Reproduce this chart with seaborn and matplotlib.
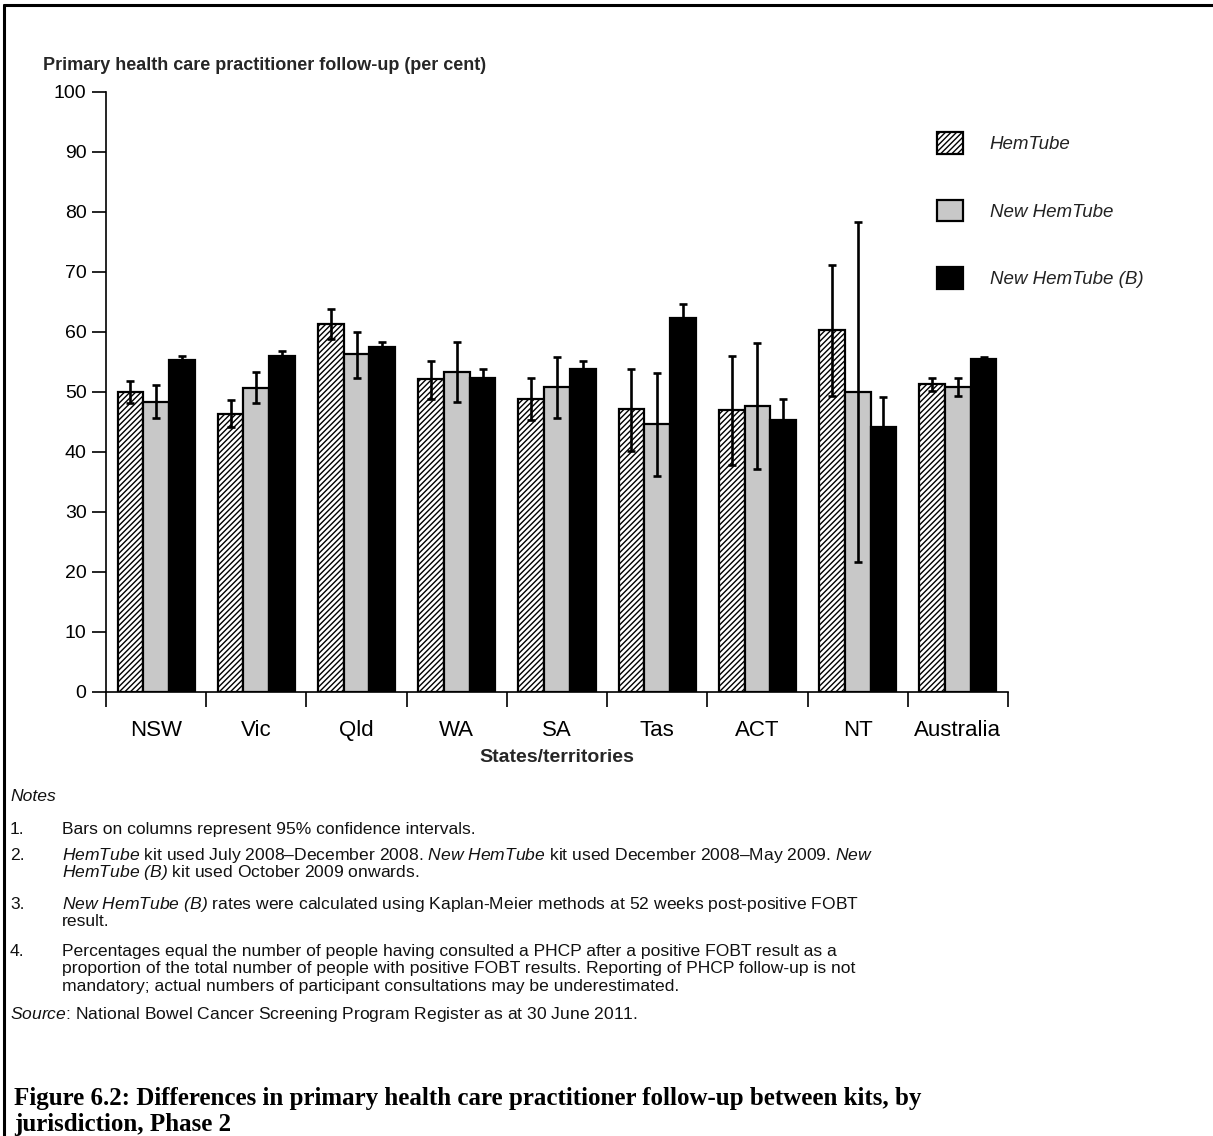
import matplotlib
matplotlib.use("Agg")
import matplotlib.pyplot as plt
import seaborn as sns
import pandas as pd
import numpy as np
from matplotlib.lines import Line2D

# ---------------- data ----------------
states = ["NSW", "Vic", "Qld", "WA", "SA", "Tas", "ACT", "NT", "Australia"]
kits = ["HemTube", "New HemTube", "New HemTube (B)"]

hemtube = [50.0, 46.4, 61.4, 52.1, 48.9, 47.1, 47.0, 60.3, 51.3]
hemtube_lo = [48.1, 44.2, 58.9, 48.9, 45.3, 40.2, 37.9, 49.4, 50.2]
hemtube_hi = [51.9, 48.6, 63.9, 55.2, 52.3, 53.9, 56.0, 71.1, 52.3]

new_hemtube = [48.4, 50.7, 56.3, 53.4, 50.8, 44.6, 47.7, 50.0, 50.9]
new_hemtube_lo = [45.7, 48.1, 52.4, 48.3, 45.7, 36.0, 37.1, 21.7, 49.3]
new_hemtube_hi = [51.2, 53.3, 60.0, 58.3, 55.8, 53.1, 58.2, 78.3, 52.4]

new_hemtube_b = [55.3, 56.0, 57.5, 52.4, 53.8, 62.3, 45.4, 44.1, 55.5]
new_hemtube_b_lo = [54.6, 55.1, 56.6, 51.0, 52.4, 60.0, 41.9, 39.0, 55.1]
new_hemtube_b_hi = [56.0, 56.9, 58.4, 53.8, 55.2, 64.6, 48.9, 49.2, 55.9]

values = [hemtube, new_hemtube, new_hemtube_b]
lows = [hemtube_lo, new_hemtube_lo, new_hemtube_b_lo]
highs = [hemtube_hi, new_hemtube_hi, new_hemtube_b_hi]

y_ticks = [0, 10, 20, 30, 40, 50, 60, 70, 80, 90, 100]

df = pd.DataFrame({
    "state": np.tile(states, len(kits)),
    "kit": np.repeat(kits, len(states)),
    "value": np.concatenate(values),
})

# ---------------- style ----------------
sns.set_theme(style="white")
plt.rcParams["font.family"] = ["Liberation Sans", "DejaVu Sans"]
plt.rcParams["hatch.linewidth"] = 1.0
plt.rcParams["hatch.color"] = "black"
plt.rcParams["mathtext.fontset"] = "custom"
plt.rcParams["mathtext.it"] = "Liberation Sans:italic"
plt.rcParams["mathtext.rm"] = "Liberation Sans:italic"
plt.rcParams["mathtext.default"] = "it"

W, H = 1213, 1136
fig = plt.figure(figsize=(W / 100, H / 100), dpi=100)
fig.patch.set_facecolor("white")

def fx(px):
    return px / W

def fy(py):
    return 1 - py / H

ax_left, ax_right, ax_top, ax_bottom = 106, 1008, 92, 692
ax = fig.add_axes([fx(ax_left), fy(ax_bottom), fx(ax_right - ax_left),
                   (ax_bottom - ax_top) / H])

palette = {"HemTube": "white", "New HemTube": "#c8c8c8", "New HemTube (B)": "black"}
sns.barplot(data=df, x="state", y="value", hue="kit", order=states,
            hue_order=kits, palette=palette, errorbar=None, width=0.77,
            gap=0, edgecolor="black", linewidth=1.6, legend=False,
            saturation=1, ax=ax)

hatches = ["//////", None, None]
for cont, h, val, lo, hi in zip(ax.containers, hatches, values, lows, highs):
    xs = []
    for p in cont.patches:
        if h:
            p.set_hatch(h)
        xs.append(p.get_x() + p.get_width() / 2)
    xs = np.array(xs)
    val = np.array(val)
    yerr = np.vstack([val - np.array(lo), np.array(hi) - val])
    ax.errorbar(xs, val, yerr=yerr, fmt="none", ecolor="black",
                elinewidth=1.9, capsize=3.2, capthick=1.9, zorder=5)

ax.set_ylim(0, 100)
ax.set_xlim(-0.5, len(states) - 0.5)
ax.set_yticks(y_ticks)
ax.set_yticklabels([str(t) for t in y_ticks], fontsize=14)
ax.tick_params(axis="y", direction="out", length=10, width=1.2,
               color="black", pad=4, left=True)
ax.tick_params(axis="x", which="major", length=0, pad=20, labelsize=16)
ax.set_xticks(np.arange(len(states) + 1) - 0.5, minor=True)
ax.tick_params(axis="x", which="minor", direction="out", length=11,
               width=1.2, color="black", bottom=True)
ax.set_xlabel("")
ax.set_ylabel("")
for s in ["top", "right"]:
    ax.spines[s].set_visible(False)
for s in ["left", "bottom"]:
    ax.spines[s].set_color("black")
    ax.spines[s].set_linewidth(1.2)
for lab in ax.get_xticklabels() + ax.get_yticklabels():
    lab.set_color("black")

# legend
leg = fig.legend(ax.containers, kits, loc="upper left",
                 bbox_to_anchor=(fx(937), fy(132)), frameon=False,
                 prop={"style": "italic", "size": 13.5},
                 handlelength=1.4, handleheight=1.4, labelspacing=2.45,
                 handletextpad=1.4, borderpad=0, borderaxespad=0)
for t in leg.get_texts():
    t.set_color("#222222")

# titles
fig.text(fx(43), fy(65), "Primary health care practitioner follow-up (per cent)",
         fontsize=13, fontweight="bold", va="center", ha="left")
fig.text(fx(557), fy(757), "States/territories", fontsize=14,
         fontweight="bold", va="center", ha="center")

# border lines
fig.add_artist(Line2D([fx(3.5), fx(3.5)], [0, fy(4.5)], color="black", lw=2.2))
fig.add_artist(Line2D([fx(3.5), 1], [fy(4.5), fy(4.5)], color="black", lw=2.2))

# ---------------- notes ----------------
NOTE_FS = 12.6
TXT = "#111111"

def note(xpx, base_px, s):
    fig.text(fx(xpx), fy(base_px), s, fontsize=NOTE_FS, va="baseline",
             ha="left", color=TXT)

def it(s):
    return r"$\mathit{" + s.replace(" ", r"\ ") + "}$"

fig.text(fx(10), fy(801), "Notes", fontsize=NOTE_FS, style="italic",
         va="baseline", color=TXT)

notes = [
    ("1.", 834, ["Bars on columns represent 95% confidence intervals."]),
    ("2.", 860, [it("HemTube") + " kit used July 2008\u2013December 2008. " + it("New HemTube")
                 + " kit used December 2008\u2013May 2009. " + it("New"),
                 it("HemTube (B)") + " kit used October 2009 onwards."]),
    ("3.", 909, [it("New HemTube (B)")
                 + " rates were calculated using Kaplan-Meier methods at 52 weeks post-positive FOBT",
                 "result."]),
    ("4.", 956, ["Percentages equal the number of people having consulted a PHCP after a positive FOBT result as a",
                 "proportion of the total number of people with positive FOBT results. Reporting of PHCP follow-up is not",
                 "mandatory; actual numbers of participant consultations may be underestimated."]),
]
for num, y0, lines in notes:
    note(10, y0, num)
    for k, s in enumerate(lines):
        note(62, y0 + k * 17.5, s)

note(10, 1019, it("Source") + ": National Bowel Cancer Screening Program Register as at 30 June 2011.")

# caption
cap_font = ["Liberation Serif", "DejaVu Serif"]
fig.text(fx(14), fy(1099),
         "Figure 6.2: Differences in primary health care practitioner follow-up between kits, by",
         fontsize=18, fontweight="bold", family=cap_font, va="center", ha="left",
         color="black")
fig.text(fx(14), fy(1124), "jurisdiction, Phase 2",
         fontsize=18, fontweight="bold", family=cap_font, va="center", ha="left",
         color="black")

fig.savefig("out.png", dpi=100, facecolor="white")
